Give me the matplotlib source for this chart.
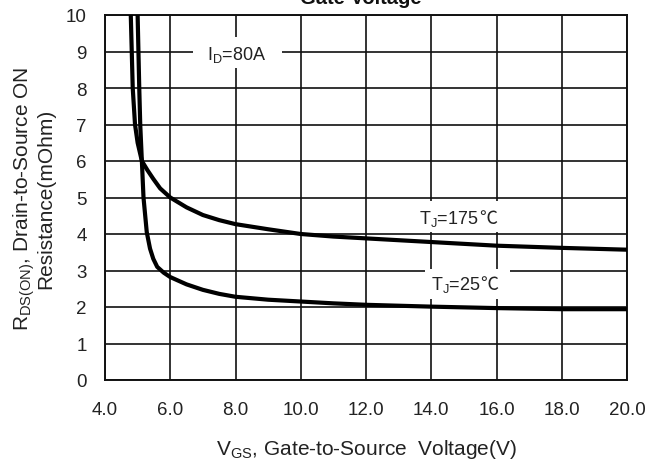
import numpy as np
import matplotlib
matplotlib.use("Agg")
from matplotlib import pyplot as plt
from matplotlib.patches import Rectangle

plt.rcParams['font.family'] = ['Liberation Sans', 'DejaVu Sans']
plt.rcParams['mathtext.fontset'] = 'custom'
plt.rcParams['mathtext.rm'] = 'Liberation Sans'
plt.rcParams['mathtext.default'] = 'regular'

# on-resistance vs gate voltage, I_D = 80A
vgs_175 = [4.79, 4.85, 4.92, 5.00, 5.13, 5.30, 5.48, 5.69, 6.00, 6.50, 7.00, 7.50,
           8.00, 9.00, 10.0, 11.0, 12.0, 14.0, 16.0, 18.0, 20.0]
rds_175 = [10.0, 8.0, 7.0, 6.5, 6.0, 5.75, 5.51, 5.25, 5.0, 4.73, 4.52, 4.38,
           4.27, 4.13, 4.00, 3.93, 3.88, 3.78, 3.68, 3.62, 3.57]

vgs_25 = [5.00, 5.05, 5.08, 5.13, 5.18, 5.28, 5.38, 5.48, 5.60, 5.80, 6.00,
          6.50, 7.00, 7.50, 8.00, 9.00, 10.0, 11.0, 12.0, 14.0, 16.0, 18.0, 20.0]
rds_25 = [10.0, 8.0, 7.0, 6.0, 5.0, 4.05, 3.6, 3.32, 3.1, 2.94, 2.82,
          2.62, 2.47, 2.36, 2.28, 2.20, 2.15, 2.10, 2.06, 2.01, 1.97, 1.94, 1.94]

xticks = [4.0, 6.0, 8.0, 10.0, 12.0, 14.0, 16.0, 18.0, 20.0]
yticks = list(range(0, 11))

fig = plt.figure(figsize=(6.58, 4.64), dpi=100)
ax = fig.add_axes([105/658, 1 - 381/464, 522/658, 365/464])

ax.set_xlim(4, 20)
ax.set_ylim(0, 10)
ax.set_xticks(xticks)
ax.set_xticklabels(["%.1f" % v for v in xticks])
ax.set_yticks(yticks)
ax.tick_params(length=0, labelsize=13.5, colors='#222222')
ax.tick_params(axis='x', pad=15)
ax.tick_params(axis='y', pad=13)
ax.set_axisbelow(True)
ax.grid(True, color='#111111', lw=1.2)
for s in ax.spines.values():
    s.set_color('#111111')
    s.set_linewidth(1.4)

# white boxes that break the grid behind the labels
for x0, y0, x1, y1 in [(6.70, 8.55, 9.43, 9.40),
                       (13.59, 4.05, 16.20, 4.90),
                       (13.81, 2.22, 16.41, 3.04)]:
    ax.add_patch(Rectangle((x0, y0), x1 - x0, y1 - y0, facecolor='white',
                           edgecolor='none', zorder=1))

ax.plot(vgs_175, rds_175, color='black', lw=3, solid_capstyle='round',
        solid_joinstyle='round', zorder=3)
ax.plot(vgs_25, rds_25, color='black', lw=3, solid_capstyle='round',
        solid_joinstyle='round', zorder=3)

ax.text(8.02, 8.93, "I$_D$=80A", ha='center', va='center', fontsize=13,
        color='#222222', zorder=4)
for x, y, t in [(14.55, 4.45, "T$_J$=175"), (14.75, 2.62, "T$_J$=25")]:
    lab = ax.text(x, y, t, ha='center', va='center', fontsize=13,
                  color='#222222', zorder=4)
    ax.annotate("\u2103", xy=(1, 0.5), xycoords=lab, va='center', ha='left',
                fontsize=13, color='#222222',
                family=['Noto Sans CJK SC', 'DejaVu Sans'], zorder=4)

ax.set_xlabel("V$_{GS}$, Gate-to-Source  Voltage(V)", fontsize=15,
              color='#222222', labelpad=14)
ax.set_ylabel("R$_{DS(ON)}$, Drain-to-Source ON\nResistance(mOhm)",
              fontsize=15, color='#222222', labelpad=8, linespacing=0.95)

fig.text(361/658, 1 - 4/464, "Gate Voltage", ha='center', va='baseline',
         fontsize=14.5, fontweight='bold', color='#111111')

fig.savefig("out.png", dpi=100)
